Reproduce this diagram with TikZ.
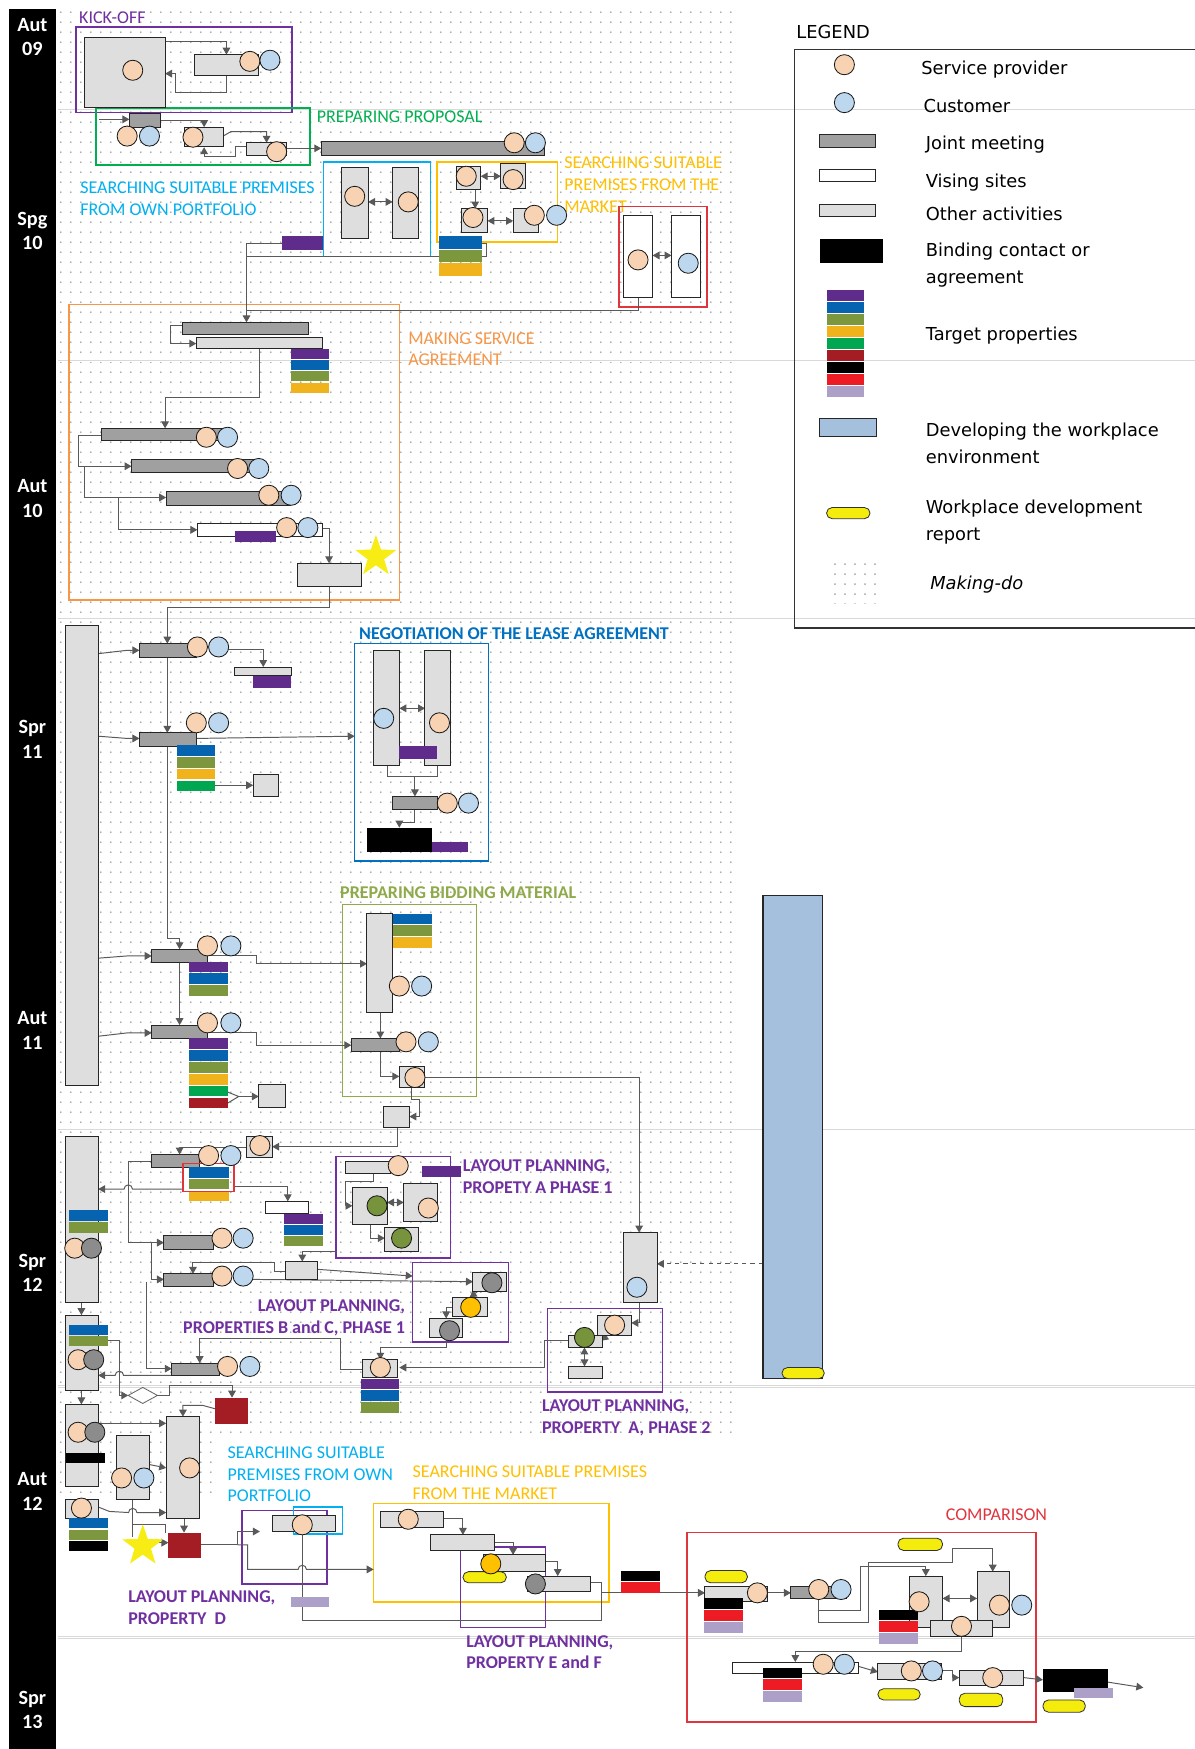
\documentclass[tikz,border=0pt]{standalone}
\usepackage{fontspec}
\setmainfont{Carlito}
\newfontfamily\lgf{DejaVu Sans}
\usetikzlibrary{fit,shapes.geometric,arrows.meta,patterns.meta}
\definecolor{spc}{HTML}{F8D3B3}
\definecolor{cuc}{HTML}{BDD7EE}
\definecolor{gyc}{HTML}{8C8C8C}
\definecolor{grc}{HTML}{77933C}
\definecolor{ycc}{HTML}{FFC000}
\definecolor{jmc}{HTML}{A0A0A0}
\definecolor{oac}{HTML}{DEDEDE}
\definecolor{tpPur}{HTML}{5F2C8C}
\definecolor{tpBlu}{HTML}{0563AF}
\definecolor{tpOli}{HTML}{7D973E}
\definecolor{tpGol}{HTML}{F0B31C}
\definecolor{tpGrn}{HTML}{00A650}
\definecolor{tpDrd}{HTML}{A51D24}
\definecolor{tpBlk}{HTML}{000000}
\definecolor{tpRed}{HTML}{ED1C24}
\definecolor{tpLav}{HTML}{ADA0C8}
\definecolor{devc}{HTML}{A4C0DC}
\definecolor{repc}{HTML}{F4EC0C}
\definecolor{starc}{HTML}{F7EC13}
\definecolor{labPur}{HTML}{7030A0}
\definecolor{labGrn}{HTML}{00B050}
\definecolor{labCya}{HTML}{00B0F0}
\definecolor{labGol}{HTML}{FFC000}
\definecolor{labOra}{HTML}{F79646}
\definecolor{labBlu}{HTML}{0070C0}
\definecolor{labOli}{HTML}{8FAA4A}
\definecolor{labRed}{HTML}{E0353D}
\newcommand\lbf{\fontsize{12.9}{15.6}\selectfont}
\newcommand\bx[6]{\node[#2, fit={(#3,#4)(#5,#6)}] (#1) {};}
\newcommand\stk[6]{\foreach \c [count=\i from 0] in {#6}{\node[tp=\c, fit={(#2,{#3+\i*#5})(#4,{#3+\i*#5+#5-1})}] (#1\i) {};}}
\tikzset{
 base/.style={inner sep=0pt, outer sep=0pt},
 jm/.style={base, draw=black!85, fill=jmc, line width=0.7pt},
 oa/.style={base, draw=black!85, fill=oac, line width=0.7pt},
 vs/.style={base, draw=black!85, fill=white, line width=0.7pt},
 bind/.style={base, fill=black},
 tp/.style={base, fill=#1},
 grp/.style={base, draw=#1, line width=1.1pt},
 sp/.style={base, circle, draw=black!90, fill=spc, line width=0.6pt, minimum size=14.4pt},
 cu/.style={sp, fill=cuc},
 gy/.style={sp, fill=gyc},
 gr/.style={sp, fill=grc},
 yc/.style={sp, fill=ycc},
 rep/.style={base, draw=black!80, fill=repc, rounded corners=4pt, line width=0.6pt},
 dev/.style={base, draw=black!85, fill=devc, line width=0.8pt},
 ln/.style={draw=black!65, line width=0.7pt},
 conn/.style={ln, -{Triangle[length=5pt,width=5.5pt]}},
 dconn/.style={ln, {Triangle[length=5pt,width=5.5pt]}-{Triangle[length=5pt,width=5.5pt]}},
 lab/.style={base, font=\lbf, align=left},
 labb/.style={base, font=\lbf\bfseries, align=left},
 leg/.style={base, font=\lgf\fontsize{12.8}{19.2}\selectfont, align=left, anchor=west},
 tlab/.style={base, text=white, font=\fontsize{14.5}{17.6}\selectfont\bfseries, align=center},
 gridl/.style={draw=gray!30, line width=0.35pt, double=white, double distance=0.8pt},
 mkdo/.style={pattern={Dots[distance=7.4pt,radius=0.75pt]}, pattern color=gray!70},
 starx/.style={base, star, star points=5, star point ratio=2.5, fill=starc, minimum size=31pt},
}
\begin{document}
\begin{tikzpicture}[x=0.8pt,y=-0.8pt]
\useasboundingbox (0,0) rectangle (1071,1568);
\fill[white] (0,0) rectangle (1071,1568);
% making-do background
\fill[mkdo] (52,8) -- (658,8) -- (658,1285) -- (192,1285) -- (192,1345) -- (52,1345) -- cycle;
\foreach \gy in {99,324,555,780,1012,1243,1468} \draw[gridl] (52,\gy) -- (1071,\gy);
% time bar
\fill[black] (8,8) rectangle (50,1568);
\foreach \t/\yy [count=\k] in {{Aut\\09}/33,{Spg\\10}/207,{Aut\\10}/447,{Spr\\11}/663,{Aut\\11}/924,{Spr\\12}/1141,{Aut\\12}/1337,{Spr\\13}/1533}
  \node[tlab] (tl\k) at (29,\yy) {\t};

% ================= LEGEND
\node[leg] (legT) at (714,29) {LEGEND};
\draw[black!80, line width=0.8pt] (1071,44) -- (712,44) -- (712,563) -- (1071,563);
\node[sp] (lg1) at (757,58) {};
\node[leg] (lg1t) at (826,62) {Service provider};
\node[cu] (lg2) at (757,92) {};
\node[leg] (lg2t) at (828,95) {Customer};
\bx{lg3}{jm}{735}{121}{785}{132}
\node[leg] (lg3t) at (830,130) {Joint meeting};
\bx{lg4}{vs}{735}{152}{785}{163}
\node[leg] (lg4t) at (830,164) {Vising sites};
\bx{lg5}{oa}{735}{183}{785}{194}
\node[leg] (lg5t) at (830,192) {Other activities};
\bx{lg6}{bind}{735}{214}{792}{236}
\node[leg, anchor=north west] (lg6t) at (830,218) {Binding contact or\\agreement};
\stk{lgs}{741}{260}{775}{10.8}{tpPur,tpBlu,tpOli,tpGol,tpGrn,tpDrd,tpBlk,tpRed,tpLav}
\node[leg] (lg7t) at (830,301) {Target properties};
\bx{lg8}{dev}{735}{375}{786}{391}
\node[leg, anchor=north west] (lg8t) at (830,379) {Developing the workplace\\environment};
\bx{lg9}{rep}{741}{455}{780}{465}
\node[leg, anchor=north west] (lg9t) at (830,448) {Workplace development\\report};
\node[base, mkdo, fit={(742,505)(792,541)}] (lg10) {};
\node[leg, font=\lgf\itshape\fontsize{12.8}{19.2}\selectfont] (lg10t) at (834,524) {Making-do};

% ================= GROUP FRAMES AND LABELS
\node[lab, text=labPur, anchor=west] (lKick) at (71,16) {KICK-OFF};
\bx{gKick}{grp=labPur}{68}{24}{262}{101}
\node[lab, text=labGrn, anchor=west] (lProp) at (284,105) {PREPARING PROPOSAL};
\bx{gProp}{grp=labGrn}{86}{97}{278}{148}
\node[lab, text=labCya, anchor=north west] (lOwn) at (72,163) {SEARCHING SUITABLE PREMISES\\FROM OWN PORTFOLIO};
\bx{gOwn}{grp=labCya}{290}{145}{386}{230}
\node[lab, text=labGol, anchor=north west] (lMkt) at (506,141) {SEARCHING SUITABLE\\PREMISES FROM THE\\MARKET};
\bx{gMkt}{grp=labGol}{392}{145}{500}{217}
\bx{gRed}{grp=labRed}{555}{185}{634}{275}
\node[lab, text=labOra, anchor=north west] (lMsa) at (366,298) {MAKING SERVICE\\AGREEMENT};
\bx{gMsa}{grp=labOra}{62}{273}{358}{538}
\node[labb, text=labBlu, anchor=west] (lNeg) at (322,568) {NEGOTIATION OF THE LEASE AGREEMENT};
\bx{gNeg}{grp=labBlu}{318}{577}{438}{772}
\node[labb, text=labOli, anchor=west] (lBid) at (305,800) {PREPARING BIDDING MATERIAL};
\bx{gBid}{grp=labOli}{307}{811}{427}{983}
\node[labb, text=labPur, anchor=north west] (lA1) at (415,1040) {LAYOUT PLANNING,\\PROPETY A PHASE 1};
\bx{gA1}{grp=labPur}{301}{1037}{404}{1128}
\node[labb, text=labPur, anchor=north east, align=right] (lBC) at (363,1165) {LAYOUT PLANNING,\\PROPERTIES B and C, PHASE 1};
\bx{gBC}{grp=labPur}{370}{1132}{456}{1203}
\node[labb, text=labPur, anchor=north west] (lA2) at (486,1255) {LAYOUT PLANNING,\\PROPERTY\ \ A, PHASE 2};
\bx{gA2}{grp=labPur}{491}{1173}{594}{1248}
\node[lab, text=labCya, anchor=north west] (lOwn2) at (204,1297) {SEARCHING SUITABLE\\PREMISES FROM OWN\\PORTFOLIO};
\node[lab, text=labGol, anchor=north west] (lMkt2) at (370,1314) {SEARCHING SUITABLE PREMISES\\FROM THE MARKET};
\bx{gMkt2}{grp=labGol}{335}{1348}{546}{1436}
\node[labb, text=labPur, anchor=north west] (lD) at (115,1426) {LAYOUT PLANNING,\\PROPERTY\ \ D};
\bx{gD}{grp=labPur}{217}{1354}{293}{1420}
\bx{gDc}{grp=labCya}{263}{1351}{307}{1375}
\bx{gEF}{grp=labPur}{413}{1387}{489}{1459}
\node[labb, text=labPur, anchor=north west] (lEF) at (418,1466) {LAYOUT PLANNING,\\PROPERTY E and F};
\node[lab, text=labRed, anchor=west] (lCmp) at (848,1358) {COMPARISON};
\bx{gCmp}{grp=labRed}{616}{1374}{929}{1544}

% ================= CONNECTORS
% kick-off
\draw[conn] (148,37) -- (203,37) -- (203,49);
\draw[conn] (203,68) -- (203,83) -- (157,83) -- (157,66) -- (148,66);
% proposal
\draw[conn] (89,107) -- (116,107);
\draw[conn] (144,108) -- (183,108) -- (183,114);
\draw[conn] (200,122) -- (207,118) -- (239,118) -- (239,128);
\draw[conn] (221,131) -- (211,131) -- (211,140) -- (183,140) -- (183,132);
\draw[conn] (257,133) -- (288,133);
% searching
\draw[dconn] (330,181) -- (352,181);
\draw[dconn] (431,158) -- (449,158);
\draw[conn] (426,170) -- (426,187);
\draw[dconn] (437,198) -- (460,198);
\draw[dconn] (585,229) -- (602,229);
\draw[ln] (432,218) -- (436,218) -- (436,230) -- (221,230);
\draw[ln] (572,267) -- (572,278) -- (221,278);
\draw[conn] (253,218) -- (221,218) -- (221,289);
% service agreement
\draw[conn] (164,292) -- (153,292) -- (153,308) -- (176,308);
\draw[conn] (233,312) -- (233,356) -- (148,356) -- (148,384);
\draw[conn] (91,390) -- (70,390) -- (70,418) -- (118,418);
\draw[conn] (76,418) -- (76,446) -- (149,446);
\draw[conn] (106,446) -- (106,475) -- (177,475);
\draw[conn] (289,474) -- (295,474) -- (295,505);
\draw[conn] (295,526) -- (295,545) -- (150,545) -- (150,577);
% spring 11
\draw[conn] (150,589) -- (150,657);
\draw[conn] (150,669) -- (150,841) -- (161,841) -- (161,851);
\draw[conn] (88,586) -- (114,583) -- (125,583);
\draw[conn] (204,582) -- (236,582) -- (236,598);
\draw[conn] (88,660) -- (114,662) -- (125,662);
\draw[conn] (176,662) -- (318,660);
\draw[conn] (193,704) -- (227,704);
% negotiation
\draw[dconn] (358,635) -- (381,635);
\draw[ln] (347,686) -- (347,696) -- (392,696) -- (392,686);
\draw[conn] (372,696) -- (372,714);
\draw[conn] (372,726) -- (372,737) -- (358,737) -- (358,742);
% bidding
\draw[conn] (88,859) -- (114,857) -- (136,857);
\draw[conn] (186,857) -- (230,857) -- (230,864) -- (329,864);
\draw[conn] (161,863) -- (161,919);
\draw[conn] (88,929) -- (114,926) -- (136,926);
\draw[ln] (204,979) -- (214,983) -- (204,989);
\draw[conn] (214,983) -- (232,983);
\draw[conn] (186,926) -- (230,926) -- (230,937) -- (315,937);
\draw[conn] (341,908) -- (341,931);
\draw[conn] (341,943) -- (341,965) -- (358,965);
\draw[conn] (381,966) -- (573,966) -- (573,1105);
\draw[conn] (369,975) -- (369,986) -- (376,986) -- (376,1001) -- (367,1001);
% spring 12
\draw[conn] (356,1011) -- (356,1028) -- (244,1028);
\draw[conn] (221,1029) -- (161,1029) -- (161,1035);
\draw[conn] (136,1041) -- (115,1041) -- (115,1114) -- (147,1114);
\draw[conn] (164,1066) -- (118.75,1066) arc[start angle=0,end angle=180,radius=3pt] -- (88,1066);
\draw[conn] (210,1064) -- (258,1064) -- (258,1077);
\draw[conn] (136,1114) -- (136,1147) -- (147,1147);
\draw[conn] (302,1122) -- (271,1122) -- (271,1131);
\draw[conn] (256,1140) -- (246,1140) -- (246,1132) -- (173,1132) -- (173,1142);
\draw[conn] (285,1138) -- (370,1144);
\draw[conn] (227,1147) -- (424,1149);
\draw[conn] (73,1168) -- (73,1179);
\draw[ln] (97,1202) -- (107,1202) -- (107,1251);
\draw[conn] (107,1251) -- (115,1251);
\draw[conn] (141,1251) -- (152,1251) -- (152,1242) -- (208,1242) -- (208,1253);
\draw[conn] (193,1263) -- (182,1260) -- (164,1260) -- (164,1270);
\draw[conn] (325,1228) -- (305,1228) -- (305,1200) -- (179,1200) -- (179,1222);
\draw[conn] (131,1149) -- (131,1227) -- (154,1227);
\draw[conn] (154,1233) -- (110.75,1233) arc[start angle=0,end angle=180,radius=3pt] -- (88,1233);
\draw[conn] (510,1202) -- (488,1202) -- (488,1226) -- (358,1226);
\draw[conn] (400,1199) -- (400,1208) -- (341,1208) -- (341,1219);
% layout A1
\draw[conn] (335,1052) -- (335,1059) -- (310,1059) -- (310,1081) -- (316,1081);
\draw[dconn] (347,1078) -- (362,1078);
\draw[conn] (332,1098) -- (332,1110) -- (345,1110);
% layout BC
\draw[conn] (428,1158) -- (421,1163);
\draw[conn] (406,1172) -- (400,1172) -- (400,1182);
% layout A2
\draw[conn, dashed] (684,1133) -- (589,1133);
\draw[conn] (573,1168) -- (573,1186) -- (566,1186);
\draw[conn] (545,1197) -- (539,1202);
\draw[dconn] (524,1208) -- (524,1225);
% autumn 12
\draw[conn] (73,1247) -- (73,1259);
\draw[conn] (88,1276) -- (149,1276);
\draw[conn] (134,1313) -- (149,1316);
\draw[conn] (88,1351) -- (98,1355) -- (115.25,1356) arc[start angle=180,end angle=0,radius=3pt] -- (149,1356);
\draw[ln] (119,1344) -- (119,1378);
\draw[ln] (119,1367) -- (148,1367) -- (148,1374);
\draw[conn] (137,1383) -- (151,1383);
\draw[conn] (165,1361) -- (165,1374);
\draw[conn] (180,1385) -- (213,1385) -- (213,1373) -- (233,1373);
\draw[conn] (213,1385) -- (222,1385) -- (222,1407) -- (267.25,1407) arc[start angle=180,end angle=0,radius=3pt] -- (335,1407);
\draw[ln] (271,1375) -- (271,1453) -- (539,1453) -- (539,1419) -- (529,1419);
\draw[conn] (539,1428) -- (632,1428);
\draw[conn] (398,1361) -- (415,1361) -- (415,1376);
\draw[conn] (443,1383) -- (460,1383) -- (460,1394);
\draw[conn] (489,1400) -- (500,1400) -- (500,1413);
% comparison
\draw[conn] (688,1428) -- (709,1428);
\draw[conn] (734,1433) -- (734,1455) -- (779,1455) -- (779,1401) -- (854,1401) -- (854,1388) -- (890,1388) -- (890,1409);
\draw[conn] (734,1444) -- (771,1444) -- (771,1404) -- (830,1404) -- (830,1413);
\draw[dconn] (845,1433) -- (876,1433);
\draw[conn] (862,1467) -- (862,1481) -- (713,1481) -- (713,1490);
\draw[conn] (770,1494) -- (787,1499);
\draw[conn] (844,1498) -- (854,1498) -- (854,1504) -- (860,1504);
\draw[conn] (918,1504) -- (935,1506);
\coordinate (endpt) at (1025,1513);
\draw[conn] (993,1508) -- (endpt);

% ================= BOXES
% kick-off
\bx{k1}{oa}{76}{34}{148}{96}
\bx{k2}{oa}{174}{49}{232}{68}
% proposal
\bx{p1}{jm}{116}{102}{144}{114}
\bx{p2}{oa}{165}{114}{200}{131}
\bx{p3}{oa}{221}{128}{257}{139}
\bx{p4}{jm}{288}{127}{488}{139}
% searching own
\bx{o1}{oa}{306}{150}{330}{214}
\bx{o2}{oa}{352}{150}{375}{214}
% market
\bx{m1}{oa}{409}{149}{431}{170}
\bx{m2}{oa}{449}{147}{471}{169}
\bx{m3}{oa}{414}{187}{437}{208}
\bx{m4}{oa}{460}{187}{483}{208}
\stk{ms}{394}{212}{432}{12}{tpBlu,tpOli,tpGol}
\bx{pb1}{tp=tpPur}{253}{212}{290}{224}
% red
\bx{r1}{vs}{559}{193}{585}{267}
\bx{r2}{vs}{602}{193}{628}{267}
% service agreement
\bx{s1}{jm}{164}{289}{277}{300}
\bx{s2}{oa}{176}{303}{289}{312}
\stk{ss}{261}{313}{295}{10}{tpPur,tpBlu,tpOli,tpGol}
\bx{s3}{jm}{91}{384}{200}{395}
\bx{s4}{jm}{118}{412}{230}{424}
\bx{s5}{jm}{149}{441}{260}{453}
\bx{s6}{vs}{177}{469}{289}{481}
\bx{s6p}{tp=tpPur}{211}{476}{247}{486}
\bx{s7}{oa}{267}{505}{324}{526}
\node[starx] (star1) at (337,499) {};
% spring 11
\bx{T1}{oa}{59}{561}{88}{973}
\bx{bA}{jm}{125}{577}{176}{589}
\bx{bA2}{oa}{210}{598}{261}{606}
\bx{bA2p}{tp=tpPur}{227}{606}{261}{617}
\bx{bB}{jm}{125}{657}{176}{669}
\stk{sB}{159}{668}{193}{10.6}{tpBlu,tpOli,tpGol,tpGrn}
\bx{sqB}{oa}{227}{694}{250}{714}
% negotiation
\bx{n1}{oa}{335}{583}{358}{686}
\bx{n2}{oa}{381}{583}{404}{686}
\bx{n1p}{tp=tpPur}{358}{669}{392}{680}
\bx{n3}{jm}{352}{714}{392}{726}
\bx{n4}{bind}{329}{742}{387}{764}
\bx{n4p}{tp=tpPur}{387}{755}{420}{764}
% bidding
\bx{bC}{jm}{136}{851}{186}{863}
\stk{sC}{169}{862}{204}{10.6}{tpPur,tpBlu,tpOli}
\bx{b1}{oa}{329}{819}{352}{908}
\stk{sb1}{352}{819}{387}{10.6}{tpBlu,tpOli,tpGol}
\bx{bD}{jm}{136}{919}{186}{931}
\stk{sD}{169}{931}{204}{10.6}{tpPur,tpBlu,tpOli,tpGol,tpGrn,tpDrd}
\bx{sqD}{oa}{232}{972}{256}{993}
\bx{bE}{jm}{315}{931}{358}{943}
\bx{b2}{oa}{358}{956}{381}{975}
\bx{sqE}{oa}{344}{992}{367}{1011}
% spring 12
\bx{sq2}{oa}{221}{1019}{244}{1038}
\bx{bF}{jm}{136}{1035}{179}{1047}
\bx{rF}{grp=labRed}{164}{1043}{210}{1068}
\bx{rFb}{tp=tpBlu}{169}{1046}{205}{1056}
\bx{rFo}{tp=tpOli}{169}{1057}{205}{1066}
\bx{rFg}{tp=tpGol}{169}{1069}{205}{1077}
\bx{T2}{oa}{59}{1019}{88}{1168}
\stk{sT2}{62}{1085}{97}{10.5}{tpBlu,tpOli}
\bx{wG}{vs}{238}{1077}{277}{1088}
\stk{sG}{255}{1088}{290}{10}{tpPur,tpBlu,tpOli}
\bx{bG}{jm}{147}{1108}{191}{1120}
\bx{bH}{jm}{147}{1142}{191}{1153}
\bx{L1}{oa}{256}{1131}{285}{1147}
\bx{T3}{oa}{59}{1179}{88}{1247}
\stk{sT3}{62}{1188}{97}{10}{tpBlu,tpOli}
\node[base, diamond, aspect=1.9, draw=black!60, fill=white, line width=0.6pt, minimum width=21pt, minimum height=11.5pt] (dm) at (128,1251) {};
\bx{dr1}{tp=tpDrd}{193}{1253}{222}{1277}
\bx{bI}{jm}{154}{1222}{197}{1233}
\bx{R1}{oa}{325}{1219}{356}{1235}
\stk{sR1}{324}{1236}{358}{10.5}{tpPur,tpBlu,tpOli}
% layout A1
\bx{a0}{tp=tpPur}{378}{1045}{413}{1055}
\bx{a1}{oa}{310}{1041}{350}{1052}
\bx{a2}{oa}{316}{1065}{347}{1098}
\bx{a3}{oa}{362}{1061}{392}{1095}
\bx{a4}{oa}{345}{1100}{375}{1122}
% layout BC
\bx{c1}{oa}{424}{1141}{454}{1158}
\bx{c2}{oa}{406}{1163}{437}{1180}
\bx{c3}{oa}{385}{1182}{415}{1199}
% layout A2
\bx{t1}{oa}{559}{1105}{589}{1168}
\bx{e1}{oa}{536}{1179}{566}{1197}
\bx{e2}{oa}{510}{1197}{540}{1208}
\bx{e3}{oa}{510}{1225}{540}{1236}
% developing
\bx{dev1}{dev}{684}{803}{737}{1236}
\bx{dev1r}{rep}{701}{1226}{739}{1236}
% autumn 12
\bx{T4}{oa}{59}{1259}{88}{1333}
\bx{T4b}{bind}{59}{1303}{94}{1312}
\bx{mM}{oa}{104}{1287}{134}{1344}
\bx{mB}{oa}{149}{1270}{179}{1361}
\bx{T5}{oa}{59}{1344}{88}{1361}
\stk{sT5}{62}{1361}{97}{10.3}{tpBlu,tpOli,tpBlk}
\node[starx] (star2) at (128,1386) {};
\bx{dr2}{tp=tpDrd}{151}{1374}{180}{1397}
\bx{d1}{oa}{244}{1359}{301}{1373}
\bx{dLav}{tp=tpLav}{261}{1432}{295}{1441}
\bx{f1}{oa}{341}{1355}{398}{1369}
\bx{f2}{oa}{386}{1376}{443}{1390}
\bx{f3}{oa}{433}{1394}{489}{1409}
\bx{f3r}{rep}{415}{1409}{454}{1419}
\bx{f4}{oa}{473}{1413}{529}{1427}
\stk{sKR}{557}{1408}{592}{10.5}{tpBlk,tpRed}
% comparison
\bx{cAr}{rep}{632}{1408}{670}{1419}
\bx{cA}{oa}{632}{1422}{688}{1436}
\stk{scA}{631}{1433}{666}{10.7}{tpBlk,tpRed,tpLav}
\bx{cB}{jm}{709}{1422}{759}{1433}
\bx{cTr}{rep}{805}{1379}{845}{1390}
\bx{cC}{oa}{815}{1413}{845}{1459}
\bx{cD}{oa}{876}{1409}{905}{1459}
\stk{scC}{788}{1443}{823}{10.5}{tpBlk,tpRed,tpLav}
\bx{cE}{oa}{834}{1453}{890}{1467}
\bx{cF}{vs}{657}{1490}{770}{1500}
\stk{scF}{684}{1495}{719}{10.5}{tpBlk,tpRed,tpLav}
\bx{cG}{oa}{787}{1491}{844}{1506}
\bx{cGr}{rep}{787}{1514}{825}{1524}
\bx{cH}{oa}{860}{1498}{918}{1511}
\bx{cHr}{rep}{860}{1518}{899}{1530}
\bx{cK}{bind}{935}{1496}{993}{1517}
\bx{cKl}{tp=tpLav}{963}{1513}{998}{1522}
\bx{cKr}{rep}{935}{1524}{973}{1535}

% ================= CIRCLES
\node[sp] (ck1) at (119,63) {};
\node[sp] (ck2) at (224,55) {};
\node[cu] (ck3) at (242,54) {};
\node[sp] (cp1) at (114,122) {};
\node[cu] (cp2) at (134,122) {};
\node[sp] (cp3) at (173,123) {};
\node[sp] (cp4) at (248,136) {};
\node[sp] (cp5) at (461,128) {};
\node[cu] (cp6) at (480,128) {};
\node[sp] (co1) at (318,176) {};
\node[sp] (co2) at (366,181) {};
\node[sp] (cm1) at (418,158) {};
\node[sp] (cm2) at (460,161) {};
\node[sp] (cm3) at (424,195) {};
\node[sp] (cm4) at (479,193) {};
\node[cu] (cm5) at (499,193) {};
\node[sp] (cr1) at (572,233) {};
\node[cu] (cr2) at (617,236) {};
\node[sp] (cs1) at (185,392) {};
\node[cu] (cs2) at (204,392) {};
\node[sp] (cs3) at (213,420) {};
\node[cu] (cs4) at (232,420) {};
\node[sp] (cs5) at (241,444) {};
\node[cu] (cs6) at (261,444) {};
\node[sp] (cs7) at (257,473) {};
\node[cu] (cs8) at (276,473) {};
\node[sp] (cA1) at (177,580) {};
\node[cu] (cA2) at (196,580) {};
\node[sp] (cB1) at (176,648) {};
\node[cu] (cB2) at (196,648) {};
\node[cu] (cn1) at (344,644) {};
\node[sp] (cn2) at (394,648) {};
\node[sp] (cn3) at (401,720) {};
\node[cu] (cn4) at (420,720) {};
\node[sp] (cC1) at (186,848) {};
\node[cu] (cC2) at (207,848) {};
\node[sp] (cb1) at (358,884) {};
\node[cu] (cb2) at (378,884) {};
\node[sp] (cD1) at (186,917) {};
\node[cu] (cD2) at (207,917) {};
\node[sp] (cE1) at (364,934) {};
\node[cu] (cE2) at (384,934) {};
\node[sp] (cb3) at (372,966) {};
\node[sp] (cq2) at (233,1027) {};
\node[sp] (cF1) at (187,1036) {};
\node[cu] (cF2) at (207,1036) {};
\node[sp] (cT2a) at (67,1119) {};
\node[gy] (cT2b) at (82,1119) {};
\node[sp] (cG1) at (199,1110) {};
\node[cu] (cG2) at (218,1110) {};
\node[sp] (cH1) at (199,1144) {};
\node[cu] (cH2) at (218,1144) {};
\node[sp] (cT3a) at (70,1219) {};
\node[gy] (cT3b) at (84,1219) {};
\node[sp] (cI1) at (204,1225) {};
\node[cu] (cI2) at (224,1225) {};
\node[sp] (cR1) at (341,1226) {};
\node[sp] (ca1) at (357,1045) {};
\node[gr] (ca2) at (338,1081) {};
\node[sp] (ca3) at (384,1083) {};
\node[gr] (ca4) at (360,1110) {};
\node[gy] (cc1) at (441,1150) {};
\node[yc] (cc2) at (422,1172) {};
\node[gy] (cc3) at (403,1193) {};
\node[cu] (ct1) at (571,1154) {};
\node[sp] (ce1) at (551,1188) {};
\node[gr] (ce2) at (524,1199) {};
\node[sp] (cT4a) at (70,1284) {};
\node[gy] (cT4b) at (85,1284) {};
\node[sp] (cM1) at (109,1325) {};
\node[cu] (cM2) at (129,1325) {};
\node[sp] (cMB) at (170,1316) {};
\node[sp] (cT5) at (73,1352) {};
\node[sp] (cd1) at (271,1367) {};
\node[sp] (cf1) at (366,1362) {};
\node[yc] (cf3) at (440,1402) {};
\node[gy] (cf4) at (480,1420) {};
\node[sp] (cx1) at (679,1428) {};
\node[sp] (cx2) at (734,1425) {};
\node[cu] (cx3) at (754,1425) {};
\node[sp] (cx4) at (824,1436) {};
\node[sp] (cx5) at (896,1439) {};
\node[cu] (cx6) at (916,1439) {};
\node[sp] (cx7) at (862,1458) {};
\node[sp] (cx8) at (738,1492) {};
\node[cu] (cx9) at (757,1492) {};
\node[sp] (cx10) at (817,1498) {};
\node[cu] (cx11) at (836,1498) {};
\node[sp] (cx12) at (890,1504) {};
\end{tikzpicture}
\end{document}
